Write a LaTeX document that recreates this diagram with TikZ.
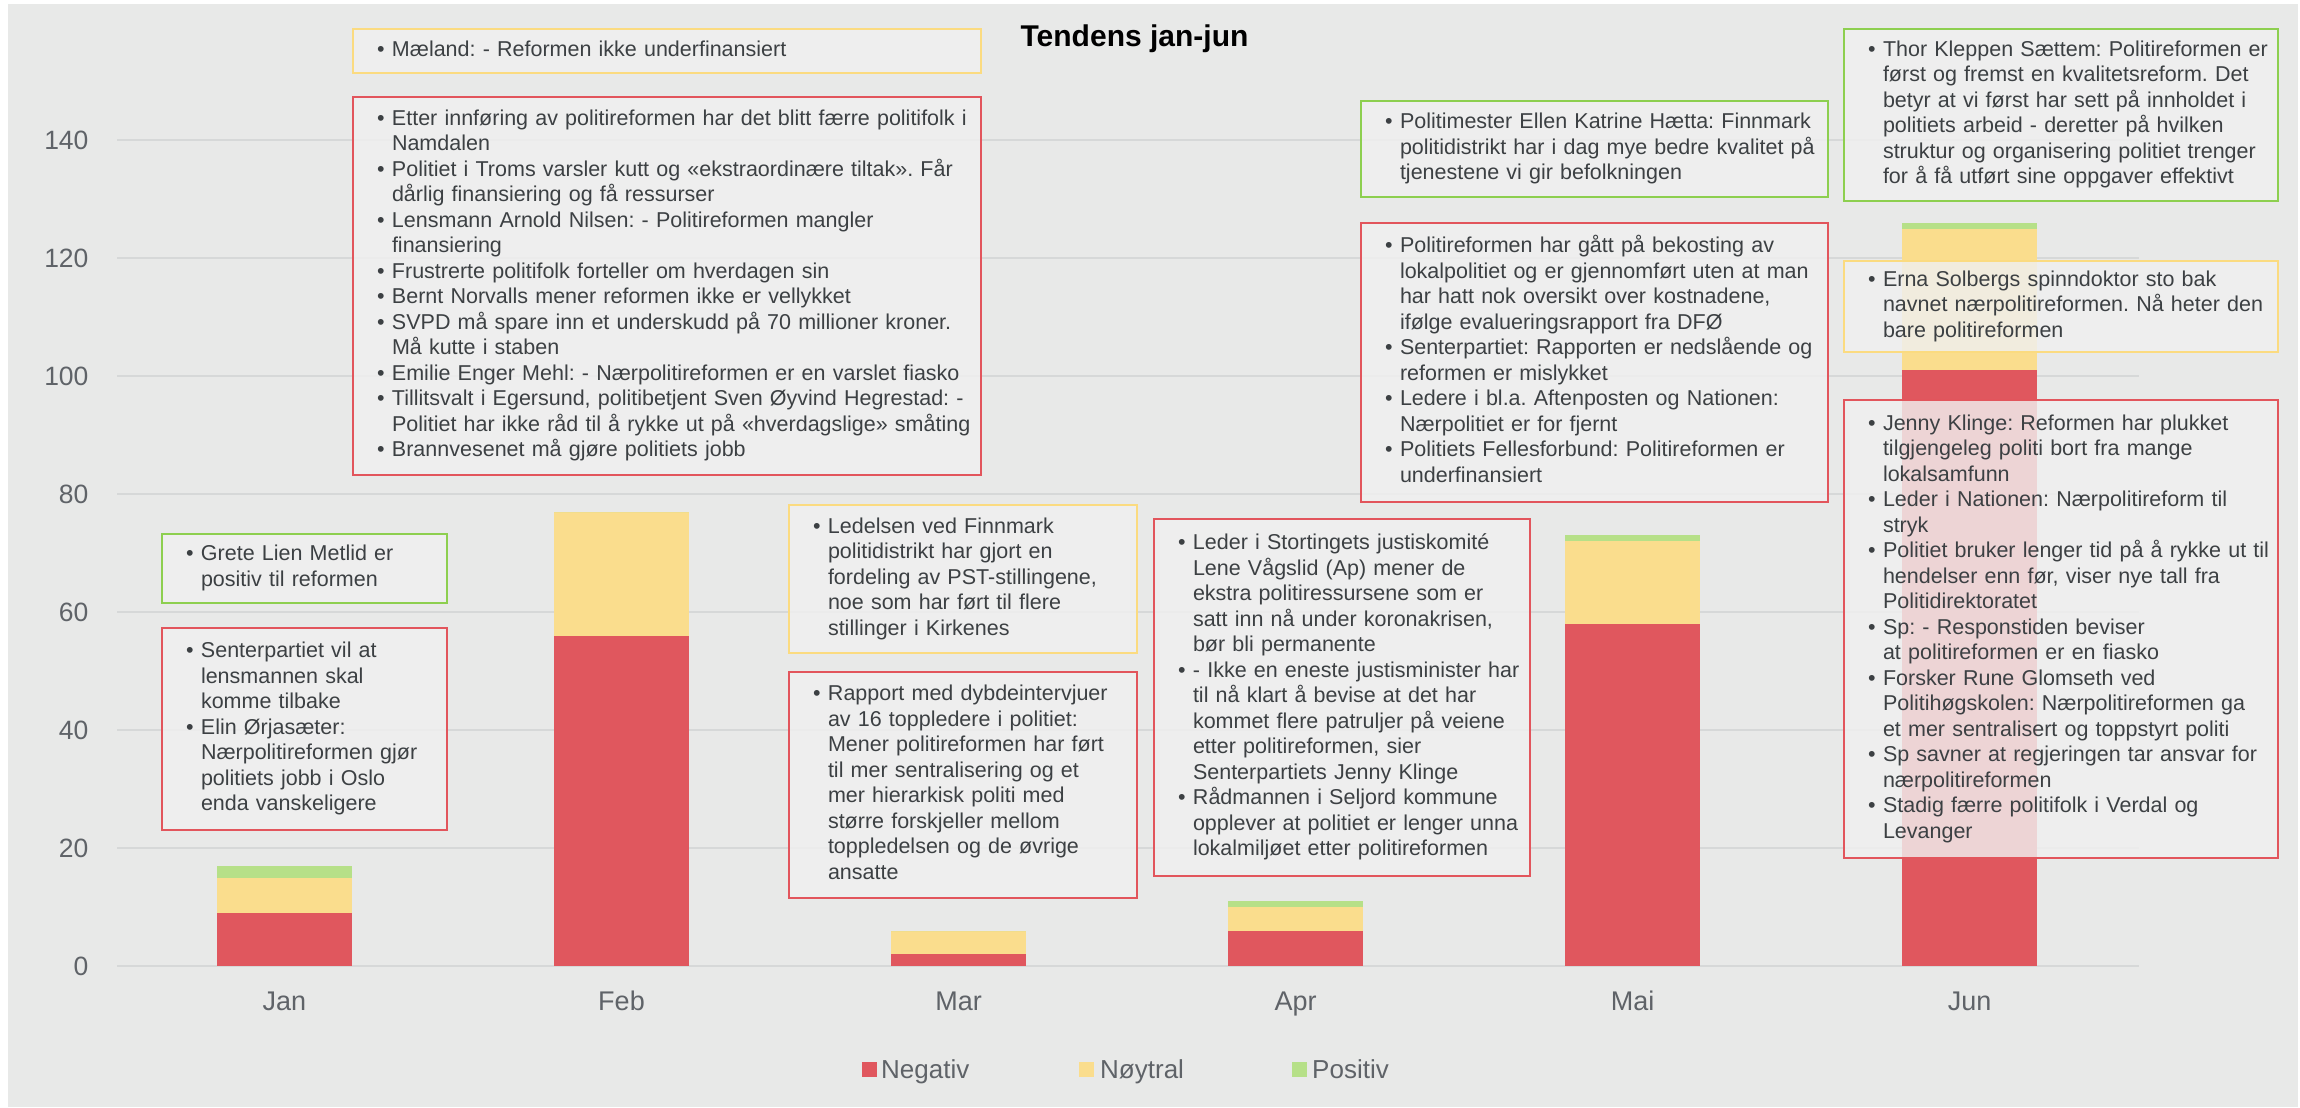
\documentclass[tikz,border=0pt]{standalone}
\usepackage{fontspec}
\setmainfont{Liberation Sans}
\usepackage{tikz}
\usetikzlibrary{positioning}

\definecolor{bggray}{RGB}{232,233,232}
\definecolor{boxgray}{RGB}{240,240,240}
\definecolor{gridgray}{RGB}{214,216,216}
\definecolor{axisgray}{RGB}{95,99,104}
\definecolor{notetext}{RGB}{60,64,67}
\definecolor{negred}{RGB}{224,87,94}
\definecolor{neuyellow}{RGB}{250,221,141}
\definecolor{posgreen}{RGB}{182,224,136}
\definecolor{negline}{RGB}{226,85,92}
\definecolor{neuline}{RGB}{251,219,128}
\definecolor{posline}{RGB}{141,207,79}

\frenchspacing
\newcommand{\notefont}{\fontsize{21.5}{25.5}\selectfont}
\newcommand{\bul}[1]{{\let\\\newline\hangindent=35pt\hangafter=1\noindent\hspace*{20pt}\makebox[15pt][l]{\textbullet}\strut#1\strut\par}}

\begin{document}
\begin{tikzpicture}
    [x=1pt, y=-1pt,
      note/.style={rectangle, line width=2.5pt, fill=boxgray, fill opacity=0.82, text opacity=1, text=notetext, font=\notefont, align=left, inner xsep=4pt, inner ysep=0pt, outer sep=0pt, anchor=north west},
      negnote/.style={note, draw=negline},
      neunote/.style={note, draw=neuline},
      posnote/.style={note, draw=posline},
      ticklbl/.style={text=axisgray, font=\fontsize{26.5}{30}\selectfont, anchor=east},
      monlbl/.style={text=axisgray, font=\fontsize{27}{30}\selectfont, anchor=base},
      leglbl/.style={text=axisgray, font=\fontsize{26}{30}\selectfont, anchor=base west, inner sep=0pt},
      gridline/.style={draw=gridgray, line width=1.5pt}]

    \useasboundingbox (0,0) rectangle (2300,1108);
    \fill[white] (0,0) rectangle (2300,1108);
    \fill[bggray] (8,4) rectangle (2298,1107);

    % grid and y axis
    \foreach \v in {0,20,...,140} {
      \draw[gridline] (117,{966-5.9*\v}) -- (2139,{966-5.9*\v});
      \node (tick\v) [ticklbl] at (92,{966-5.9*\v}) {\v};
    }

    % stacked bars
    \foreach \mon/\ng/\nu/\ps [count=\i from 0] in {Jan/9/6/2, Feb/56/21/0, Mar/2/4/0, Apr/6/4/1, Mai/58/14/1, Jun/101/24/1} {
      \pgfmathsetmacro{\xc}{284.5+337*\i}
      \fill[negred] ({\xc-67.5},966) rectangle ({\xc+67.5},{966-5.9*\ng});
      \fill[neuyellow] ({\xc-67.5},{966-5.9*\ng}) rectangle ({\xc+67.5},{966-5.9*(\ng+\nu)});
      \fill[posgreen] ({\xc-67.5},{966-5.9*(\ng+\nu)}) rectangle ({\xc+67.5},{966-5.9*(\ng+\nu+\ps)});
      \node (lbl\mon) [monlbl] at (\xc,1010) {\mon};
    }

    \node (title) [font=\bfseries\fontsize{30}{36}\selectfont, anchor=base] at (1134.5,47) {Tendens jan-jun};

    % Jan
    \node (jangood) [posnote, text width=277pt, minimum height=69pt] at (162,534) {%
      \bul{Grete Lien Metlid er\\ positiv til reformen}};
    \node (janneg) [negnote, text width=277pt, minimum height=202pt, below=25pt of jangood] {%
      \bul{Senterpartiet vil at\\ lensmannen skal\\ komme tilbake}
      \bul{Elin Ørjasæter:\\ Nærpolitireformen gjør\\ politiets jobb i Oslo\\ enda vanskeligere}};

    % Feb
    \node (maeland) [neunote, text width=620pt, minimum height=44pt] at (353,29) {%
      \bul{Mæland: - Reformen ikke underfinansiert}};
    \node (febneg) [negnote, text width=620pt, minimum height=378pt, below=24pt of maeland] {%
      \bul{Etter innføring av politireformen har det blitt færre politifolk i\\ Namdalen}
      \bul{Politiet i Troms varsler kutt og «ekstraordinære tiltak». Får\\ dårlig finansiering og få ressurser}
      \bul{Lensmann Arnold Nilsen: - Politireformen mangler\\ finansiering}
      \bul{Frustrerte politifolk forteller om hverdagen sin}
      \bul{Bernt Norvalls mener reformen ikke er vellykket}
      \bul{SVPD må spare inn et underskudd på 70 millioner kroner.\\ Må kutte i staben}
      \bul{Emilie Enger Mehl: - Nærpolitireformen er en varslet fiasko}
      \bul{Tillitsvalt i Egersund, politibetjent Sven Øyvind Hegrestad: -\\ Politiet har ikke råd til å rykke ut på «hverdagslige» småting}
      \bul{Brannvesenet må gjøre politiets jobb}};

    % Mar
    \node (marneu) [neunote, text width=340pt, minimum height=148pt] at (789,505) {%
      \bul{Ledelsen ved Finnmark\\ politidistrikt har gjort en\\ fordeling av PST-stillingene,\\ noe som har ført til flere\\ stillinger i Kirkenes}};
    \node (marneg) [negnote, text width=340pt, minimum height=226pt, below=19pt of marneu] {%
      \bul{Rapport med dybdeintervjuer\\ av 16 toppledere i politiet:\\ Mener politireformen har ført\\ til mer sentralisering og et\\ mer hierarkisk politi med\\ større forskjeller mellom\\ toppledelsen og de øvrige\\ ansatte}};

    % Apr
    \node (aprneg) [negnote, text width=368pt, minimum height=357pt] at (1154,519) {%
      \bul{Leder i Stortingets justiskomité\\ Lene Vågslid (Ap) mener de\\ ekstra politiressursene som er\\ satt inn nå under koronakrisen,\\ bør bli permanente}
      \bul{- Ikke en eneste justisminister har\\ til nå klart å bevise at det har\\ kommet flere patruljer på veiene\\ etter politireformen, sier\\ Senterpartiets Jenny Klinge}
      \bul{Rådmannen i Seljord kommune\\ opplever at politiet er lenger unna\\ lokalmiljøet etter politireformen}};

    % Mai
    \node (maipos) [posnote, text width=459pt, minimum height=96pt] at (1361,101) {%
      \bul{Politimester Ellen Katrine Hætta: Finnmark\\ politidistrikt har i dag mye bedre kvalitet på\\ tjenestene vi gir befolkningen}};
    \node (maineg) [negnote, text width=459pt, minimum height=279pt, below=26pt of maipos] {%
      \bul{Politireformen har gått på bekosting av\\ lokalpolitiet og er gjennomført uten at man\\ har hatt nok oversikt over kostnadene,\\ ifølge evalueringsrapport fra DFØ}
      \bul{Senterpartiet: Rapporten er nedslående og\\ reformen er mislykket}
      \bul{Ledere i bl.a. Aftenposten og Nationen:\\ Nærpolitiet er for fjernt}
      \bul{Politiets Fellesforbund: Politireformen er\\ underfinansiert}};

    % Jun
    \node (junpos) [posnote, text width=426pt, minimum height=172pt] at (1844,29) {%
      \bul{Thor Kleppen Sættem: Politireformen er\\ først og fremst en kvalitetsreform. Det\\ betyr at vi først har sett på innholdet i\\ politiets arbeid - deretter på hvilken\\ struktur og organisering politiet trenger\\ for å få utført sine oppgaver effektivt}};
    \node (junneu) [neunote, text width=426pt, minimum height=91pt, below=60pt of junpos] {%
      \bul{Erna Solbergs spinndoktor sto bak\\ navnet nærpolitireformen. Nå heter den\\ bare politireformen}};
    \node (junneg) [negnote, text width=426pt, minimum height=458pt, below=48pt of junneu] {%
      \bul{Jenny Klinge: Reformen har plukket\\ tilgjengeleg politi bort fra mange\\ lokalsamfunn}
      \bul{Leder i Nationen: Nærpolitireform til\\ stryk}
      \bul{Politiet bruker lenger tid på å rykke ut til\\ hendelser enn før, viser nye tall fra\\ Politidirektoratet}
      \bul{Sp: - Responstiden beviser\\ at politireformen er en fiasko}
      \bul{Forsker Rune Glomseth ved\\ Politihøgskolen: Nærpolitireformen ga\\ et mer sentralisert og toppstyrt politi}
      \bul{Sp savner at regjeringen tar ansvar for\\ nærpolitireformen}
      \bul{Stadig færre politifolk i Verdal og\\ Levanger}};

    % legend
    \fill[negred] (862,1062) rectangle (877,1077);
    \node (legneg) [leglbl] at (881,1078) {Negativ};
    \fill[neuyellow] (1079,1062) rectangle (1094,1077);
    \node (legneu) [leglbl] at (1100,1078) {Nøytral};
    \fill[posgreen] (1292,1062) rectangle (1307,1077);
    \node (legpos) [leglbl] at (1312,1078) {Positiv};
\end{tikzpicture}
\end{document}
